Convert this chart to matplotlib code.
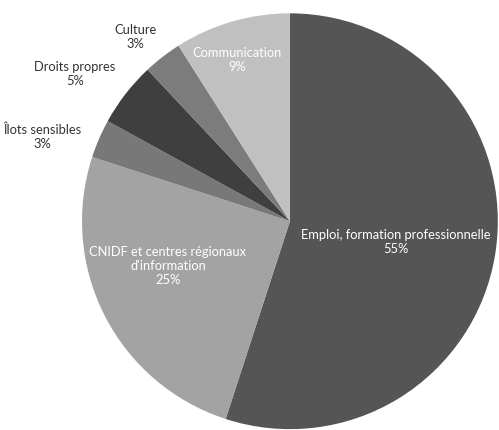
import matplotlib
matplotlib.use("Agg")
import matplotlib.pyplot as plt

categories = ["Emploi, formation professionnelle", "CNIDF et centres régionaux\nd'information",
              "Îlots sensibles", "Droits propres", "Culture", "Communication"]
values = [55, 25, 3, 5, 3, 9]
pct_labels = ["55%", "25%", "3%", "5%", "3%", "9%"]

colors = ["#555555", "#a3a3a3", "#787878", "#3f3f3f", "#7c7c7c", "#c0c0c0"]
text_colors = ["white", "white", "#333333", "#333333", "#333333", "white"]
label_pos = [(0.51, -0.10), (-0.587, -0.216), (-1.19, 0.404), (-1.034, 0.707),
             (-0.745, 0.885), (-0.255, 0.774)]

plt.rcParams['font.family'] = ['Lato', 'DejaVu Sans']

fig = plt.figure(figsize=(4.99, 4.30), dpi=100)
ax = fig.add_axes([0.164, 0.002, 0.834, 0.967])
ax.pie(values, colors=colors, startangle=90, counterclock=False, radius=1,
       wedgeprops=dict(linewidth=0))
ax.set_xlim(-1, 1)
ax.set_ylim(-1, 1)
ax.set_aspect('equal')
ax.axis('off')

for cat, pct, (x, y), tc in zip(categories, pct_labels, label_pos, text_colors):
    ax.text(x, y, f"{cat}\n{pct}", ha='center', va='center', color=tc,
            fontsize=9.3, linespacing=1.2, clip_on=False)

fig.savefig("out.png", dpi=100)
